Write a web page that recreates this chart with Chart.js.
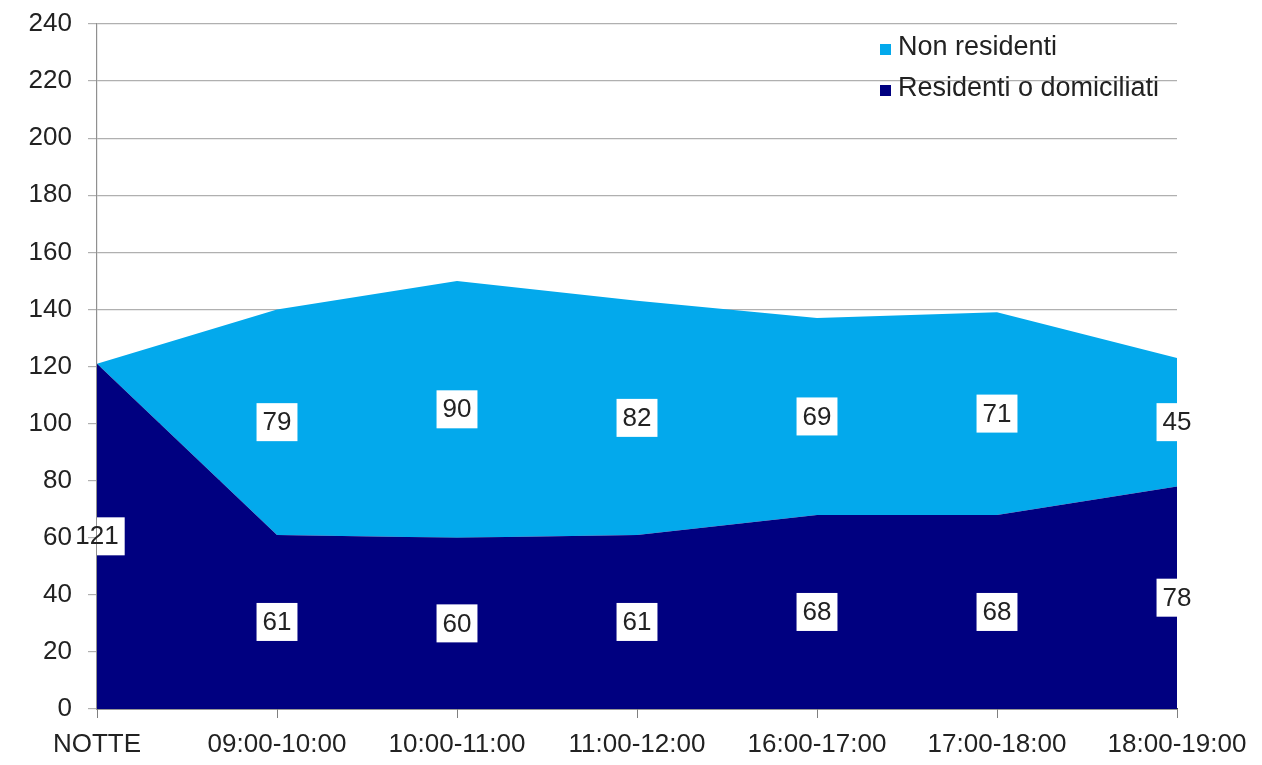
<!DOCTYPE html>
<html lang="it">
<head>
<meta charset="utf-8">
<title>Residenti / Non residenti</title>
<script src="https://cdn.jsdelivr.net/npm/chart.js@4/dist/chart.umd.min.js"></script>
<style>
    html, body { margin: 0; padding: 0; background: #fff; }
    #wrap { position: relative; width: 1262px; height: 765px; }
</style>
</head>
<body>
<div id="wrap"><canvas id="areaChart"></canvas></div>
<script>
const fasce = ['NOTTE', '09:00-10:00', '10:00-11:00', '11:00-12:00', '16:00-17:00', '17:00-18:00', '18:00-19:00'];
const residenti = [121, 61, 60, 61, 68, 68, 78];
const nonResidenti = [0, 79, 90, 82, 69, 71, 45];
const yTicks = [0, 20, 40, 60, 80, 100, 120, 140, 160, 180, 200, 220, 240];

(() => {
    const canvas = document.getElementById('areaChart');
    if (!canvas) {
        return;
    }

    const FONT = '"Liberation Sans", Arial, sans-serif';
    const NAVY = '#000080';
    const SKY = '#03a9ec';

    // etichette dei valori al centro di ogni fascia, con riquadro bianco
    const valueLabels = {
        id: 'valueLabels',
        afterDatasetsDraw(chart) {
            const { ctx, chartArea } = chart;
            const x = chart.scales.x;
            const y = chart.scales.y;
            ctx.save();
            ctx.font = `26px ${FONT}`;
            ctx.textAlign = 'center';
            ctx.textBaseline = 'middle';
            chart.data.datasets.forEach((ds, di) => {
                ds.data.forEach((v, i) => {
                    if (!v) {
                        return;
                    }
                    let base = 0;
                    for (let k = 0; k < di; k++) {
                        base += chart.data.datasets[k].data[i];
                    }
                    const px = x.getPixelForValue(i);
                    const py = y.getPixelForValue(base + v / 2);
                    const text = String(v);
                    const w = ctx.measureText(text).width + 12;
                    const h = 38;
                    // il riquadro non copre le etichette dell'asse y
                    const left = Math.max(px - w / 2, chartArea.left);
                    ctx.fillStyle = '#ffffff';
                    ctx.fillRect(left, py - h / 2, px + w / 2 - left, h);
                    ctx.fillStyle = '#222222';
                    ctx.fillText(text, px, py + 1);
                });
            });
            ctx.restore();
        },
    };

    // legenda verticale dentro l'area del grafico
    const boxLegend = {
        id: 'boxLegend',
        afterDraw(chart) {
            const { ctx } = chart;
            const items = chart.data.datasets.slice().reverse();
            ctx.save();
            ctx.font = `27px ${FONT}`;
            ctx.textAlign = 'left';
            ctx.textBaseline = 'middle';
            items.forEach((ds, i) => {
                const cy = 48 + i * 41;
                ctx.fillStyle = ds.backgroundColor;
                ctx.fillRect(880, cy - 4, 11, 11);
                ctx.fillStyle = '#222222';
                ctx.fillText(ds.label, 898, cy);
            });
            ctx.restore();
        },
    };

    new Chart(canvas.getContext('2d'), {
        type: 'line',
        data: {
            labels: fasce,
            datasets: [
                {
                    label: 'Residenti o domiciliati',
                    data: residenti,
                    backgroundColor: NAVY,
                    borderWidth: 0,
                    pointRadius: 0,
                    fill: 'origin',
                    tension: 0,
                },
                {
                    label: 'Non residenti',
                    data: nonResidenti,
                    backgroundColor: SKY,
                    borderWidth: 0,
                    pointRadius: 0,
                    fill: '-1',
                    tension: 0,
                },
            ],
        },
        options: {
            responsive: true,
            maintainAspectRatio: false,
            animation: false,
            layout: {
                padding: { left: 0, right: 85, top: 24, bottom: 0 },
            },
            plugins: {
                legend: { display: false },
                tooltip: { enabled: false },
            },
            scales: {
                x: {
                    offset: false,
                    grid: {
                        drawOnChartArea: false,
                        drawTicks: true,
                        tickLength: 9,
                        color: '#808080',
                    },
                    border: { color: '#404040', width: 1.5 },
                    ticks: {
                        padding: 11,
                        color: '#222222',
                        font: { family: FONT, size: 26 },
                        maxRotation: 0,
                        autoSkip: false,
                    },
                    afterFit(scale) {
                        scale.height = 56;
                    },
                },
                y: {
                    stacked: true,
                    min: yTicks[0],
                    max: yTicks[yTicks.length - 1],
                    afterBuildTicks(scale) {
                        scale.ticks = yTicks.map((v) => ({ value: v }));
                    },
                    grid: {
                        color: '#b0b0b0',
                        lineWidth: 1.2,
                        tickLength: 9,
                    },
                    border: { color: '#909090', width: 1.2 },
                    ticks: {
                        padding: 16,
                        color: '#222222',
                        font: { family: FONT, size: 26 },
                    },
                    afterFit(scale) {
                        scale.width = 97;
                        scale.paddingTop = 0;
                        scale.paddingBottom = 0;
                    },
                },
            },
        },
        plugins: [valueLabels, boxLegend],
    });
})();
</script>
</body>
</html>
